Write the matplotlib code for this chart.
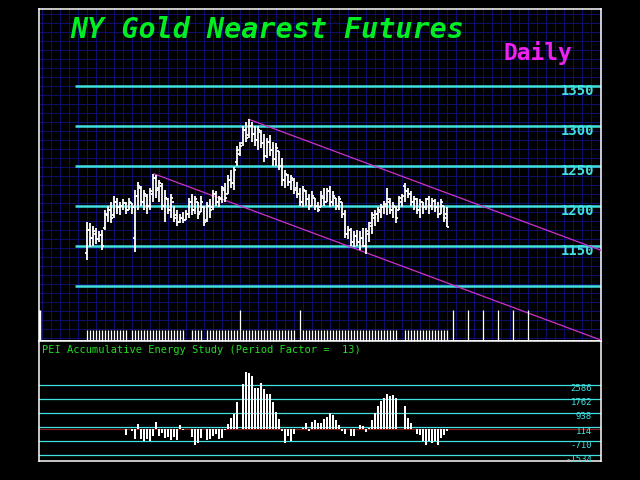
import matplotlib
matplotlib.use("Agg")
import matplotlib.pyplot as plt
from matplotlib.ticker import MultipleLocator, NullLocator

# daily OHLC bars (bar index 0..120)
highs = [1180, 1178, 1175, 1172, 1168, 1170, 1195, 1200, 1205, 1212,
         1210, 1205, 1208, 1205, 1210, 1203, 1220, 1230, 1225, 1220,
         1215, 1222, 1240, 1238, 1232, 1228, 1220, 1210, 1215, 1200,
         1195, 1190, 1192, 1195, 1210, 1215, 1212, 1205, 1212, 1200,
         1205, 1208, 1220, 1218, 1212, 1225, 1228, 1238, 1245, 1248,
         1275, 1280, 1300, 1305, 1308, 1305, 1300, 1300, 1295, 1290,
         1285, 1288, 1280, 1278, 1268, 1260, 1245, 1240, 1238, 1235,
         1230, 1222, 1225, 1220, 1215, 1218, 1210, 1205, 1218, 1222,
         1222, 1225, 1218, 1210, 1212, 1205, 1195, 1175, 1172, 1168,
         1170, 1168, 1172, 1172, 1180, 1192, 1195, 1198, 1202, 1206,
         1222, 1210, 1205, 1200, 1212, 1215, 1228, 1222, 1218, 1212,
         1210, 1208, 1205, 1210, 1212, 1210, 1208, 1205, 1208, 1200,
         1198]
lows = [1132, 1148, 1150, 1152, 1155, 1145, 1170, 1180, 1178, 1185,
        1190, 1188, 1195, 1190, 1195, 1190, 1142, 1195, 1200, 1195,
        1190, 1195, 1205, 1210, 1205, 1195, 1180, 1190, 1185, 1180,
        1175, 1178, 1178, 1182, 1185, 1188, 1190, 1183, 1192, 1175,
        1180, 1185, 1195, 1200, 1198, 1203, 1205, 1215, 1222, 1220,
        1250, 1262, 1275, 1280, 1285, 1280, 1275, 1270, 1272, 1255,
        1260, 1262, 1250, 1250, 1245, 1225, 1222, 1225, 1220, 1215,
        1210, 1200, 1198, 1200, 1195, 1200, 1195, 1192, 1198, 1200,
        1205, 1198, 1200, 1195, 1195, 1185, 1160, 1158, 1150, 1148,
        1150, 1145, 1148, 1140, 1155, 1165, 1175, 1180, 1185, 1190,
        1189, 1190, 1185, 1178, 1195, 1198, 1205, 1210, 1200, 1195,
        1190, 1185, 1190, 1195, 1190, 1195, 1192, 1185, 1190, 1180,
        1174]
opens = [1141, 1170, 1160, 1165, 1158, 1163, 1172, 1188, 1195, 1188,
         1205, 1198, 1200, 1203, 1195, 1203, 1160, 1212, 1222, 1205,
         1212, 1200, 1215, 1235, 1222, 1225, 1200, 1208, 1195, 1205,
         1188, 1180, 1185, 1182, 1190, 1205, 1195, 1205, 1192, 1198,
         1182, 1200, 1198, 1215, 1205, 1208, 1220, 1215, 1232, 1228,
         1255, 1265, 1278, 1295, 1288, 1300, 1290, 1282, 1292, 1278,
         1262, 1280, 1270, 1258, 1268, 1250, 1232, 1238, 1230, 1232,
         1222, 1215, 1205, 1218, 1208, 1200, 1210, 1200, 1198, 1210,
         1205, 1218, 1205, 1210, 1200, 1205, 1190, 1165, 1170, 1155,
         1162, 1155, 1160, 1150, 1165, 1175, 1185, 1190, 1192, 1198,
         1200, 1205, 1195, 1198, 1195, 1205, 1225, 1218, 1215, 1205,
         1208, 1195, 1205, 1198, 1208, 1200, 1206, 1198, 1190, 1200,
         1190]
closes = [1170, 1160, 1168, 1158, 1163, 1150, 1190, 1195, 1185, 1205,
          1198, 1200, 1203, 1195, 1205, 1198, 1212, 1225, 1205, 1215,
          1200, 1218, 1235, 1220, 1228, 1200, 1210, 1195, 1210, 1185,
          1180, 1185, 1182, 1190, 1205, 1195, 1208, 1190, 1205, 1180,
          1200, 1195, 1215, 1205, 1210, 1222, 1210, 1232, 1228, 1245,
          1270, 1275, 1295, 1285, 1300, 1290, 1282, 1295, 1278, 1262,
          1280, 1270, 1258, 1272, 1250, 1232, 1240, 1230, 1235, 1220,
          1215, 1205, 1220, 1208, 1200, 1212, 1200, 1195, 1212, 1205,
          1218, 1205, 1212, 1200, 1208, 1190, 1165, 1170, 1155, 1162,
          1155, 1160, 1150, 1168, 1178, 1188, 1190, 1195, 1198, 1202,
          1208, 1195, 1200, 1185, 1210, 1212, 1218, 1215, 1205, 1208,
          1195, 1205, 1198, 1208, 1200, 1206, 1198, 1190, 1205, 1185,
          1174]

price_levels = [1100, 1150, 1200, 1250, 1300, 1350]
price_labels = ["", "1150", "1200", "1250", "1300", "1350"]

# trend channel: (start bar, start price), common slope per bar
channel_starts = [(54, 1308), (22.3, 1240)]
channel_slope = -1.395

# date strip at the bottom of the price panel
volume_gaps = [14, 33, 34, 39, 51, 70, 71, 104, 105]
marker_bars = [51, 71, 122, 127, 132, 137, 142, 147]

# PEI accumulative energy study, starts at bar 13
energy_start = 13
energy = [-375, 0, -140, -570, 310, -560, -730, -560, -730, -420,
          410, -420, -250, -500, -450, -650, -450, -650, 240, -80,
          0, 0, -480, -920, -800, -500, 0, -650, -560, -420,
          -280, -560, -500, -80, 310, 650, 880, 1550, 0, 2600,
          3330, 3250, 3100, 2410, 2410, 2700, 2350, 2020, 2020, 1580,
          980, 610, -100, -820, -430, -690, -300, 0, 0, 80,
          350, -100, 390, 550, 330, 350, 570, 680, 940, 820,
          510, 250, -100, -290, 0, -390, -390, 0, 240, 200,
          -150, 60, 510, 940, 1330, 1620, 1820, 2020, 1920, 1960,
          1820, 0, 0, 1330, 650, 350, 0, -300, -350, -690,
          -920, -690, -820, -690, -920, -550, -350, -100]
energy_levels = [2586, 1762, 938, 114, -710, -1534]

CYAN = "#40e0e0"
MAGENTA = "#cc33cc"
GRID = "#0e0e6e"

fig = plt.figure(figsize=(6.4, 4.8), dpi=100, facecolor="black")
ax = fig.add_axes([39 / 640, 139 / 480, 562 / 640, 332 / 480], facecolor="black")
ax2 = fig.add_axes([39 / 640, 19 / 480, 562 / 640, 120 / 480], facecolor="black")

x_lo, x_hi = -16, 171.33
ax.set_xlim(x_lo, x_hi)
ax.set_ylim(1031, 1446)
ax2.set_xlim(x_lo, x_hi)
ax2.set_ylim(-1870, 5135)

# dark blue grid behind the price panel
ax.xaxis.set_major_locator(NullLocator())
ax.yaxis.set_major_locator(NullLocator())
ax.xaxis.set_minor_locator(MultipleLocator(3))
ax.yaxis.set_minor_locator(MultipleLocator(11.25))
ax.grid(which="minor", color=GRID, lw=0.7, zorder=0)
ax.tick_params(which="both", length=0)
ax2.set_xticks([])
ax2.set_yticks([])

for a in (ax, ax2):
    for s in a.spines.values():
        s.set_color("white")
        s.set_linewidth(1.1)

# horizontal price levels
ax.hlines(price_levels, -4, x_hi, color=CYAN, lw=1.8, zorder=2)
for lvl, lab in zip(price_levels, price_labels):
    ax.text(0.9875, lvl - 6, lab, transform=ax.get_yaxis_transform(), ha="right", va="center",
            color=CYAN, fontsize=10, family="DejaVu Sans Mono", weight="bold")

# channel lines
for x0, y0 in channel_starts:
    ax.plot([x0, x_hi], [y0, y0 + channel_slope * (x_hi - x0)], color=MAGENTA, lw=0.9, zorder=3)

# OHLC bars
idx = list(range(len(highs)))
ax.vlines(idx, lows, highs, color="white", lw=1.3, zorder=4)
ax.hlines(opens, [i - 0.75 for i in idx], idx, color="white", lw=1.3, zorder=4)
ax.hlines(closes, idx, [i + 0.75 for i in idx], color="white", lw=1.3, zorder=4)

# date strip
ticks = [i for i in idx if i not in volume_gaps]
ax.vlines(ticks, 1031, 1045, color="white", lw=0.9, zorder=4)
ax.vlines(marker_bars, 1031, 1070, color="white", lw=0.9, zorder=4)
ax.vlines([x_lo], 1031, 1070, color="white", lw=2.5, zorder=5)

# titles
fig.text(70 / 640, 1 - 30 / 480, "NY Gold Nearest Futures", color="#00ee22", fontsize=20.4,
         family="DejaVu Sans Mono", weight="bold", style="oblique", va="center", ha="left")
fig.text(572 / 640, 1 - 53 / 480, "Daily", color="#ee22ee", fontsize=16.5,
         family="DejaVu Sans Mono", weight="bold", va="center", ha="right")

# energy study panel
for lvl in energy_levels:
    ax2.axhline(lvl, color=CYAN, lw=0.9, zorder=1)
    ax2.text(0.984, lvl - 235, str(lvl), transform=ax2.get_yaxis_transform(), ha="right", va="center",
             color=CYAN, fontsize=6.5, family="DejaVu Sans Mono")
ax2.axhline(0, color="#8b1a1a", lw=0.9, zorder=1)
ax2.bar(range(energy_start, energy_start + len(energy)), energy, width=0.6, color="white", zorder=3)
ax2.text(0.005, 0.925, "PEI Accumulative Energy Study (Period Factor =  13)", transform=ax2.transAxes,
         color="#22dd22", fontsize=7.5, family="DejaVu Sans Mono", va="center", ha="left")

fig.savefig("out.png", dpi=100, facecolor="black")
